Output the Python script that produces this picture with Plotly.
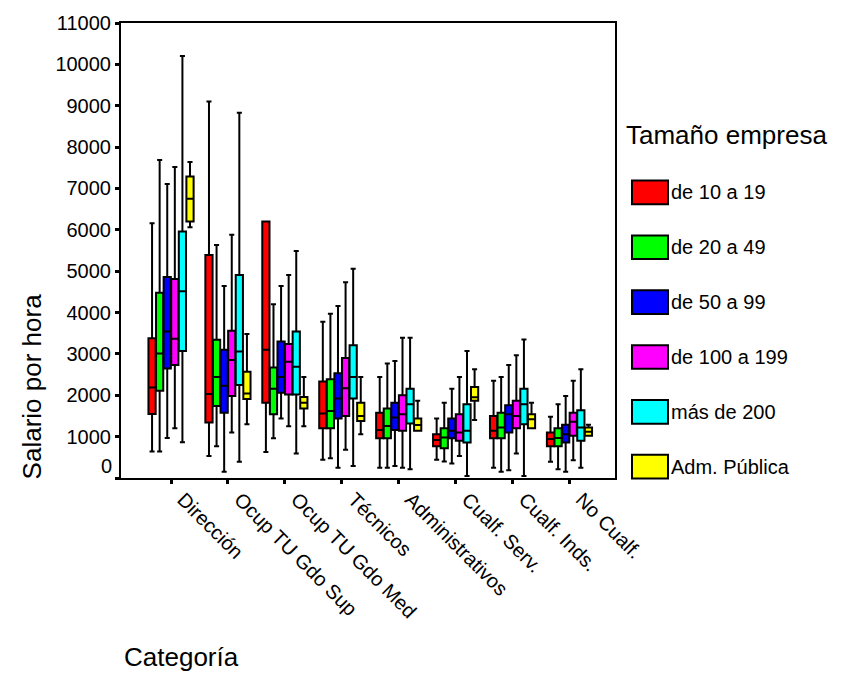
import plotly.graph_objects as go

categories = ["Dirección", "Ocup TU Gdo Sup", "Ocup TU Gdo Med", "Técnicos",
              "Administrativos", "Cualf. Serv.", "Cualf. Inds.", "No Cualf."]
groups = ["de 10 a 19", "de 20 a 49", "de 50 a 99", "de 100 a 199", "más de 200", "Adm. Pública"]
colors = ["#FF0000", "#00FF00", "#0000FF", "#FF00FF", "#00FFFF", "#FFFF00"]

# per group: lists over categories
low_10_19 = [640, 530, 630, 440, 250, 440, 250, 390]
q1_10_19 = [1550, 1340, 1820, 1200, 960, 770, 960, 770]
med_10_19 = [2190, 2030, 3100, 1560, 1160, 920, 1140, 940]
q3_10_19 = [3380, 5390, 6200, 2330, 1580, 1060, 1500, 1100]
high_10_19 = [6160, 9100, 6200, 3780, 2440, 1440, 2350, 1480]

low_20_49 = [640, 770, 960, 480, 250, 400, 150, 210]
q1_20_49 = [2110, 1740, 1540, 1200, 960, 720, 960, 770]
med_20_49 = [3010, 2440, 2160, 1620, 1260, 980, 1220, 970]
q3_20_49 = [4480, 3340, 2670, 2390, 1680, 1200, 1580, 1200]
high_20_49 = [7690, 5630, 4200, 3970, 2770, 1820, 2440, 1780]

low_50_99 = [970, 150, 1440, 250, 290, 350, 190, 150]
q1_50_99 = [2650, 1580, 2060, 1440, 1160, 960, 1100, 860]
med_50_99 = [3540, 2230, 2440, 1920, 1460, 1140, 1540, 1060]
q3_50_99 = [4860, 3100, 3300, 2530, 1820, 1440, 1760, 1290]
high_50_99 = [7110, 4640, 4640, 4160, 2830, 2160, 2730, 1980]

low_100_199 = [1205, 1100, 1250, 680, 250, 530, 590, 430]
q1_100_199 = [2730, 1980, 2020, 1500, 1140, 900, 1200, 1020]
med_100_199 = [3365, 2850, 2810, 2170, 1540, 1100, 1500, 1360]
q3_100_199 = [4810, 3560, 3240, 2900, 2000, 1540, 1870, 1580]
high_100_199 = [7520, 5880, 4910, 4730, 3390, 2440, 2970, 2350]

low_200 = [865, 390, 590, 290, 210, 50, 50, 250]
q1_200 = [3070, 2250, 2020, 1920, 1320, 860, 1300, 900]
med_200 = [4515, 3060, 2690, 2440, 1780, 1140, 1780, 1220]
q3_200 = [5960, 4910, 3540, 3210, 2160, 1780, 2160, 1640]
high_200 = [10200, 8830, 5490, 5060, 3390, 3070, 3350, 2630]

low_adm = [6060, 1300, 1250, 1060, 1140, 1400, 1200, 1020]
q1_adm = [6200, 1910, 1680, 1380, 1140, 1870, 1200, 1020]
med_adm = [6750, 2040, 1820, 1500, 1280, 1950, 1420, 1120]
q3_adm = [7290, 2570, 1960, 1820, 1440, 2200, 1540, 1220]
high_adm = [7640, 3480, 2440, 2440, 1870, 2630, 1820, 1290]

stats = [
    (low_10_19, q1_10_19, med_10_19, q3_10_19, high_10_19),
    (low_20_49, q1_20_49, med_20_49, q3_20_49, high_20_49),
    (low_50_99, q1_50_99, med_50_99, q3_50_99, high_50_99),
    (low_100_199, q1_100_199, med_100_199, q3_100_199, high_100_199),
    (low_200, q1_200, med_200, q3_200, high_200),
    (low_adm, q1_adm, med_adm, q3_adm, high_adm),
]

y_ticks = list(range(0, 11001, 1000))

FONT = "Liberation Sans, Arial, sans-serif"

fig = go.Figure()
for name, col, (lo, q1, md, q3, hi) in zip(groups, colors, stats):
    fig.add_trace(go.Box(
        name=name, x=categories, lowerfence=lo, q1=q1, median=md, q3=q3, upperfence=hi,
        fillcolor=col, line=dict(color="black", width=2), whiskerwidth=0.7,
        boxpoints=False, showlegend=False, hoverinfo="skip",
    ))

L, R, T, B = 121, 615, 16, 478
W, H = 847, 675
pw, ph = R - L, B - T


def px_x(px):
    return (px - L) / pw


def px_y(py):
    return (B - py) / ph


shapes = []
annotations = []
for i, (name, col) in enumerate(zip(groups, colors)):
    cy = 188 + 55.7 * i
    shapes.append(dict(type="rect", xref="paper", yref="paper",
                       x0=px_x(632), x1=px_x(668), y0=px_y(cy + 12), y1=px_y(cy - 12),
                       fillcolor=col, line=dict(color="black", width=2)))
    annotations.append(dict(text=name, xref="paper", yref="paper", x=px_x(669), y=px_y(cy),
                            xanchor="left", yanchor="middle", showarrow=False,
                            font=dict(size=20, color="black", family=FONT)))

annotations.append(dict(text="Tamaño empresa", xref="paper", yref="paper", x=px_x(624), y=px_y(130),
                        xanchor="left", yanchor="middle", showarrow=False,
                        font=dict(size=26, color="black", family=FONT)))
annotations.append(dict(text="Salario por hora", xref="paper", yref="paper", x=px_x(32), y=px_y(385),
                        xanchor="center", yanchor="middle", textangle=-90, showarrow=False,
                        font=dict(size=26, color="black", family=FONT)))
annotations.append(dict(text="Categoría", xref="paper", yref="paper", x=px_x(122), y=px_y(660),
                        xanchor="left", yanchor="middle", showarrow=False,
                        font=dict(size=26, color="black", family=FONT)))
annotations.append(dict(text="0", xref="paper", yref="y", x=px_x(114), y=290,
                        xanchor="right", yanchor="middle", showarrow=False,
                        font=dict(size=20, color="black", family=FONT)))

fig.update_layout(
    width=W, height=H,
    margin=dict(l=L, r=W - R, t=T, b=H - B, pad=0),
    paper_bgcolor="white", plot_bgcolor="white",
    boxmode="group", boxgap=0.2, boxgroupgap=0.05,
    font=dict(family=FONT, size=20, color="black"),
    shapes=shapes, annotations=annotations,
    xaxis=dict(type="category", categoryorder="array", categoryarray=categories,
               range=[-0.879, 7.80], tickangle=45, showgrid=False, zeroline=False,
               showline=True, linecolor="black", linewidth=2, mirror=True,
               ticks="outside", ticklen=4, tickwidth=3, tickcolor="black",
               ticklabelshift=12, ticklabelstandoff=-4,
               tickfont=dict(size=20, family=FONT)),
    yaxis=dict(range=[0, 11000], tickvals=y_ticks,
               ticktext=[("" if v == 0 else str(v)) for v in y_ticks],
               showgrid=False, zeroline=False,
               showline=True, linecolor="black", linewidth=2, mirror=True,
               ticks="outside", ticklen=4, tickwidth=3, tickcolor="black",
               tickfont=dict(size=20, family=FONT)),
)

fig.write_html("out.html")
